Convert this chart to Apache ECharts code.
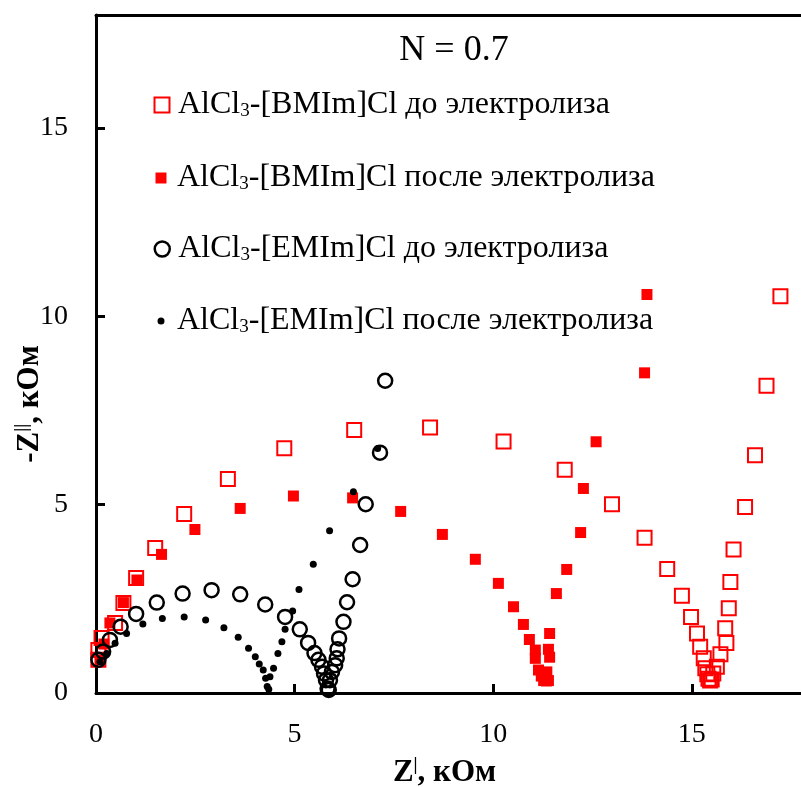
<!DOCTYPE html>
<html lang="ru">
<head>
    <meta charset="utf-8"/>
    <script src="https://cdn.jsdelivr.net/npm/echarts@6/dist/echarts.min.js"></script>
    <title></title>
    <style>
        html, body {margin: 0; padding: 0; background: #fff;}
    </style>
</head>
<body>
<div id="main" style="width: 801px;height:787px;"></div>
<script type="text/javascript">

    var FONT = "'Times New Roman', 'Liberation Serif', serif";

    var names = [
        'AlCl3-[BMIm]Cl до электролиза',
        'AlCl3-[BMIm]Cl после электролиза',
        'AlCl3-[EMIm]Cl до электролиза',
        'AlCl3-[EMIm]Cl после электролиза'
    ];

    // Z', кОм / -Z'', кОм
    var bmimBefore = [
        [0.06, 0.88], [0.06, 1.14], [0.14, 1.46], [0.48, 1.86], [0.69, 2.39], [1.01, 3.05],
        [1.49, 3.85], [2.22, 4.75], [3.32, 5.68], [4.74, 6.50], [6.50, 6.98], [8.41, 7.05],
        [10.26, 6.68], [11.80, 5.93], [12.99, 5.01], [13.81, 4.12], [14.38, 3.29], [14.75, 2.58],
        [14.98, 2.02], [15.13, 1.58], [15.21, 1.23], [15.30, 0.92], [15.34, 0.66], [15.39, 0.50],
        [15.42, 0.38], [15.46, 0.33], [15.50, 0.36], [15.54, 0.52], [15.63, 0.70], [15.72, 1.03],
        [15.87, 1.33], [15.84, 1.72], [15.93, 2.25], [15.97, 2.95], [16.05, 3.81], [16.34, 4.94],
        [16.59, 6.31], [16.88, 8.16], [17.23, 10.53]
    ];
    var bmimAfter = [
        [0.10, 0.88], [0.20, 1.30], [0.35, 1.86], [0.69, 2.40], [1.03, 3.00], [1.65, 3.68],
        [2.49, 4.34], [3.63, 4.90], [4.97, 5.23], [6.46, 5.18], [7.67, 4.82], [8.72, 4.21],
        [9.55, 3.55], [10.13, 2.91], [10.51, 2.29], [10.76, 1.82], [10.91, 1.42], [11.06, 1.14],
        [11.06, 0.92], [11.14, 0.61], [11.21, 0.45], [11.27, 0.33], [11.34, 0.32], [11.39, 0.33],
        [11.35, 0.56], [11.42, 0.95], [11.39, 1.16], [11.42, 1.58], [11.59, 2.64], [11.85, 3.28],
        [12.20, 4.26], [12.27, 5.43], [12.59, 6.67], [13.81, 8.50], [13.87, 10.58]
    ];
    var emimBefore = [
        [0.06, 0.88], [0.18, 1.10], [0.35, 1.41], [0.62, 1.76], [1.01, 2.10], [1.53, 2.40],
        [2.18, 2.64], [2.91, 2.73], [3.63, 2.62], [4.26, 2.35], [4.76, 2.02], [5.13, 1.69],
        [5.34, 1.33], [5.50, 1.06], [5.60, 0.88], [5.69, 0.70], [5.74, 0.52], [5.79, 0.34],
        [5.83, 0.12], [5.86, 0.08], [5.89, 0.34], [5.94, 0.56], [6.02, 0.74], [6.06, 0.92],
        [6.08, 1.16], [6.12, 1.45], [6.23, 1.89], [6.32, 2.41], [6.46, 3.02], [6.65, 3.93],
        [6.79, 5.01], [7.15, 6.38], [7.28, 8.29]
    ];
    var emimAfter = [
        [0.10, 0.83], [0.27, 1.05], [0.48, 1.32], [0.77, 1.58], [1.18, 1.83], [1.67, 1.98],
        [2.22, 2.02], [2.76, 1.94], [3.22, 1.73], [3.58, 1.48], [3.84, 1.19], [4.01, 0.96],
        [4.11, 0.77], [4.21, 0.61], [4.27, 0.39], [4.31, 0.17], [4.35, 0.10], [4.38, 0.43],
        [4.47, 0.66], [4.58, 1.05], [4.68, 1.36], [4.76, 1.69], [4.95, 2.18], [5.11, 2.75],
        [5.47, 3.42], [5.88, 4.31], [6.48, 5.34], [7.09, 6.49]
    ];

    var myChart = echarts.init(document.getElementById('main'));

    function legendText(name) {
        return 'AlCl{sub|3}' + name.slice(5);
    }

    // one legend per series so each marker keeps its own size
    function makeLegend(i, top, w, style) {
        return {
            data: [names[i]],
            left: 161 - w / 2,
            top: top,
            padding: 0,
            itemWidth: w,
            itemHeight: w,
            itemStyle: style,
            formatter: legendText,
            textStyle: {
                fontFamily: FONT, fontSize: 32, color: '#000',
                padding: [0, 0, 0, 11 - w / 2],
                rich: {sub: {fontFamily: FONT, fontSize: 19, color: '#000', verticalAlign: 'bottom'}}
            }
        };
    }

    option = {
        animation: false,
        title: {
            text: 'N = 0.7',
            left: 449,
            top: 28,
            textAlign: 'center',
            textStyle: {fontFamily: FONT, fontSize: 36, fontWeight: 'normal', color: '#000'}
        },
        legend: [
            makeLegend(0, 89, 15, {color: 'rgba(0,0,0,0)', borderColor: '#ff0000', borderWidth: 2, opacity: 1}),
            makeLegend(1, 162, 11, {color: '#ff0000', borderWidth: 0, opacity: 1}),
            makeLegend(2, 233, 15, {color: 'rgba(0,0,0,0)', borderColor: '#000', borderWidth: 2.5, opacity: 1}),
            makeLegend(3, 305, 7, {color: '#000', borderWidth: 0, opacity: 1})
        ],
        grid: {left: 96, top: 15, width: 715, height: 678, outerBoundsMode: 'none', containLabel: false},
        xAxis: [{
            type: 'value',
            min: 0, max: 18, interval: 5,
            name: 'Z{sup||}, кОм',
            nameLocation: 'middle',
            nameGap: 63,
            nameMoveOverlap: false,
            nameTextStyle: {
                fontFamily: FONT, fontSize: 31, fontWeight: 'bold', color: '#000',
                padding: [0, 18, 0, 0],
                rich: {sup: {fontFamily: FONT, fontSize: 18, color: '#000', padding: [0, 0, 16, 0]}}
            },
            axisLine: {lineStyle: {color: '#000', width: 3}},
            axisTick: {inside: true, length: 9, lineStyle: {width: 3}},
            axisLabel: {fontFamily: FONT, fontSize: 28, color: '#000', margin: 28,
                showMaxLabel: false},
            splitLine: {show: false}
        }, {
            type: 'value',
            position: 'top',
            min: 0, max: 18,
            axisLine: {show: true, onZero: false, lineStyle: {color: '#000', width: 3}},
            axisTick: {show: false},
            axisLabel: {show: false},
            splitLine: {show: false}
        }],
        yAxis: {
            type: 'value',
            min: 0, max: 18, interval: 5,
            name: '-Z{sup|||}, кОм',
            nameLocation: 'middle',
            nameGap: 49,
            nameMoveOverlap: false,
            nameTextStyle: {
                fontFamily: FONT, fontSize: 31, fontWeight: 'bold', color: '#000',
                padding: [0, 100, 0, 0],
                rich: {sup: {fontFamily: FONT, fontSize: 18, color: '#000', padding: [0, 0, 16, 0]}}
            },
            axisLine: {show: true, lineStyle: {color: '#000', width: 3}},
            axisTick: {show: true, inside: true, length: 9, lineStyle: {width: 3}},
            axisLabel: {fontFamily: FONT, fontSize: 28, color: '#000', margin: 28,
                showMaxLabel: false},
            splitLine: {show: false}
        },
        series: [
            {
                name: names[0], type: 'scatter', data: bmimBefore,
                symbol: 'rect', symbolSize: 14,
                itemStyle: {color: 'rgba(0,0,0,0)', borderColor: '#ff0000', borderWidth: 2, opacity: 1}
            },
            {
                name: names[1], type: 'scatter', data: bmimAfter,
                symbol: 'rect', symbolSize: 11,
                itemStyle: {color: '#ff0000', opacity: 1}
            },
            {
                name: names[2], type: 'scatter', data: emimBefore,
                symbol: 'circle', symbolSize: 14,
                itemStyle: {color: 'rgba(0,0,0,0)', borderColor: '#000', borderWidth: 2.5, opacity: 1}
            },
            {
                name: names[3], type: 'scatter', data: emimAfter,
                symbol: 'circle', symbolSize: 7,
                itemStyle: {color: '#000', opacity: 1}
            }
        ]
    };
    myChart.setOption(option);

</script>
</body>
</html>
